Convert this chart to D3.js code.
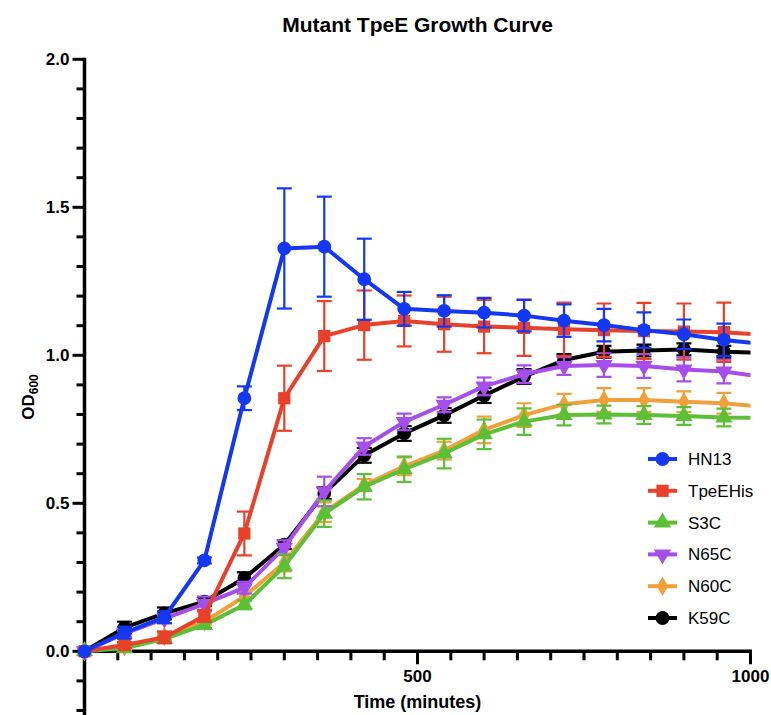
<!DOCTYPE html>
<html>
<head>
<meta charset="utf-8">
<script src="https://cdn.jsdelivr.net/npm/d3@7/dist/d3.min.js"></script>
<style>
  html, body { margin: 0; padding: 0; background: #fff; }
  svg { display: block; font-family: "Liberation Sans", Arial, Helvetica, sans-serif; }
</style>
</head>
<body>
<svg id="chart" width="771" height="715"></svg>
<script>
// Sampling times (minutes)
const times = [0, 60, 120, 180, 240, 300, 360, 420, 480, 540, 600, 660, 720, 780, 840, 900, 960, 1020];

// Mean OD600 per strain
const hn13     = [0, 0.063, 0.115, 0.307, 0.855, 1.361, 1.367, 1.257, 1.157, 1.150, 1.144, 1.134, 1.117, 1.102, 1.085, 1.071, 1.052, 1.038];
const tpeEHis  = [0, 0.021, 0.047, 0.120, 0.398, 0.855, 1.065, 1.102, 1.116, 1.105, 1.097, 1.093, 1.088, 1.085, 1.082, 1.080, 1.078, 1.069];
const s3c      = [0, 0.010, 0.042, 0.089, 0.157, 0.287, 0.465, 0.556, 0.615, 0.668, 0.733, 0.776, 0.798, 0.800, 0.798, 0.795, 0.790, 0.788];
const n65c     = [0, 0.060, 0.110, 0.160, 0.215, 0.350, 0.540, 0.692, 0.775, 0.833, 0.895, 0.936, 0.964, 0.967, 0.964, 0.952, 0.945, 0.927];
const n60c     = [0, 0.015, 0.050, 0.100, 0.185, 0.300, 0.470, 0.562, 0.625, 0.678, 0.748, 0.798, 0.835, 0.849, 0.849, 0.843, 0.838, 0.826];
const k59c     = [0, 0.080, 0.128, 0.168, 0.247, 0.360, 0.534, 0.662, 0.736, 0.797, 0.864, 0.928, 0.984, 1.012, 1.016, 1.020, 1.012, 1.008];

// Error (± SD) per strain
const hn13Err    = [0, 0.020, 0.020, 0.010, 0.040, 0.203, 0.169, 0.137, 0.057, 0.053, 0.050, 0.053, 0.055, 0.055, 0.060, 0.050, 0.055, 0.050];
const tpeEHisErr = [0, 0.010, 0.020, 0.020, 0.074, 0.110, 0.118, 0.117, 0.086, 0.093, 0.090, 0.095, 0.090, 0.090, 0.095, 0.095, 0.100, 0.100];
const s3cErr     = [0, 0.010, 0.010, 0.010, 0.015, 0.040, 0.045, 0.043, 0.043, 0.050, 0.050, 0.045, 0.035, 0.030, 0.030, 0.030, 0.030, 0.030];
const n65cErr    = [0, 0.010, 0.015, 0.025, 0.020, 0.025, 0.050, 0.028, 0.028, 0.025, 0.030, 0.030, 0.030, 0.040, 0.040, 0.040, 0.040, 0.040];
const n60cErr    = [0, 0.010, 0.010, 0.010, 0.015, 0.030, 0.033, 0.020, 0.030, 0.030, 0.045, 0.040, 0.035, 0.040, 0.040, 0.035, 0.035, 0.030];
const k59cErr    = [0, 0.020, 0.020, 0.015, 0.020, 0.015, 0.020, 0.025, 0.025, 0.025, 0.025, 0.025, 0.020, 0.020, 0.020, 0.020, 0.020, 0.020];

const seriesNames = ["HN13", "TpeEHis", "S3C", "N65C", "N60C", "K59C"];
const seriesColors = ["#1437F2", "#E8402A", "#5CBF35", "#A64EEA", "#F0A03A", "#000000"];
const seriesSymbols = ["circle", "square", "triangle", "triangleDown", "diamond", "circle"];

const xTickLabels = [500, 1000];
const yTickLabels = [0.0, 0.5, 1.0, 1.5, 2.0];

const series = seriesNames.map((name, i) => ({
  name,
  color: seriesColors[i],
  symbol: seriesSymbols[i],
  values: [hn13, tpeEHis, s3c, n65c, n60c, k59c][i],
  errs: [hn13Err, tpeEHisErr, s3cErr, n65cErr, n60cErr, k59cErr][i]
}));

const svg = d3.select("#chart");

const x = d3.scaleLinear().domain([0, 1000]).range([84.5, 750.5]);
const y = d3.scaleLinear().domain([0, 2.0]).range([651.3, 59.3]);
const yBottom = -0.5; // the axis runs on below zero

// Clip the data to the x range of the axis (lines run on past 1000)
svg.append("defs").append("clipPath").attr("id", "plotClip")
  .append("rect").attr("x", 60).attr("y", 0).attr("width", x(1000) - 60).attr("height", 715);

// Title
svg.append("text")
  .attr("x", (x(0) + x(1000)) / 2).attr("y", 31.5)
  .attr("text-anchor", "middle")
  .attr("font-weight", "bold").attr("font-size", 21)
  .text("Mutant TpeE Growth Curve");

// Y axis
const yAxis = svg.append("g").attr("transform", `translate(${x(0)},0)`);
yAxis.append("line")
  .attr("x1", 0).attr("x2", 0).attr("y1", y(2.0) - 1.5).attr("y2", y(yBottom))
  .attr("stroke", "#000").attr("stroke-width", 3.5);
const yMinor = d3.range(-5, 21).map(d => d / 10);
yAxis.selectAll("line.minor").data(yMinor.filter(v => Math.abs(v * 2 - Math.round(v * 2)) > 1e-6))
  .join("line").attr("class", "minor")
  .attr("x1", -8).attr("x2", 0).attr("y1", d => y(d)).attr("y2", d => y(d))
  .attr("stroke", "#000").attr("stroke-width", 3);
yAxis.selectAll("line.major").data(yTickLabels)
  .join("line").attr("class", "major")
  .attr("x1", -12).attr("x2", 0).attr("y1", d => y(d)).attr("y2", d => y(d))
  .attr("stroke", "#000").attr("stroke-width", 3);
yAxis.selectAll("text.lab").data(yTickLabels)
  .join("text").attr("class", "lab")
  .attr("x", -15).attr("y", d => y(d) + 6)
  .attr("text-anchor", "end")
  .attr("font-weight", "bold").attr("font-size", 17)
  .text(d => d3.format(".1f")(d));

// X axis along OD = 0
const xAxis = svg.append("g").attr("transform", `translate(0,${y(0)})`);
xAxis.append("line")
  .attr("x1", x(0)).attr("x2", x(1000) + 1.5).attr("y1", 0).attr("y2", 0)
  .attr("stroke", "#000").attr("stroke-width", 3.5);
const xMinor = d3.range(50, 1001, 50).filter(v => !xTickLabels.includes(v));
xAxis.selectAll("line.minor").data(xMinor)
  .join("line").attr("class", "minor")
  .attr("x1", d => x(d)).attr("x2", d => x(d)).attr("y1", 0).attr("y2", 9)
  .attr("stroke", "#000").attr("stroke-width", 3);
xAxis.selectAll("line.major").data(xTickLabels)
  .join("line").attr("class", "major")
  .attr("x1", d => x(d)).attr("x2", d => x(d)).attr("y1", 0).attr("y2", 13)
  .attr("stroke", "#000").attr("stroke-width", 3);
xAxis.selectAll("text.lab").data(xTickLabels)
  .join("text").attr("class", "lab")
  .attr("x", d => x(d)).attr("y", 30.5)
  .attr("text-anchor", "middle")
  .attr("font-weight", "bold").attr("font-size", 17)
  .text(d => d);

// Axis titles
svg.append("text")
  .attr("x", (x(0) + x(1000)) / 2).attr("y", 708)
  .attr("text-anchor", "middle")
  .attr("font-weight", "bold").attr("font-size", 18)
  .text("Time (minutes)");

const yTitle = svg.append("text")
  .attr("transform", `translate(34,397) rotate(-90)`)
  .attr("text-anchor", "middle")
  .attr("font-weight", "bold").attr("font-size", 17);
yTitle.append("tspan").text("OD");
yTitle.append("tspan").attr("font-size", 12).attr("dy", 4).text("600");

// Marker shapes
function symbolPath(kind) {
  const map = {
    circle: d3.symbol(d3.symbolCircle, 150),
    square: d3.symbol(d3.symbolSquare, 150),
    triangle: d3.symbol(d3.symbolTriangle, 130),
    triangleDown: d3.symbol(d3.symbolTriangle, 130),
    diamond: d3.symbol(d3.symbolDiamond, 110)
  };
  return map[kind]();
}
function symbolRotate(kind) { return kind === "triangleDown" ? " rotate(180)" : ""; }

const plot = svg.append("g").attr("clip-path", "url(#plotClip)");
const line = d3.line().x((d, i) => x(times[i])).y(d => y(d));

// Draw the last strain first so HN13 sits on top
series.slice().reverse().forEach(s => {
  const g = plot.append("g");
  const pts = s.values.map((v, i) => ({ t: times[i], v, e: s.errs[i] }));
  // error bars
  g.selectAll("g.err").data(pts.filter(p => p.e > 0))
    .join("g").attr("class", "err")
    .each(function (p) {
      const eg = d3.select(this);
      const cx = x(p.t);
      eg.append("line").attr("x1", cx).attr("x2", cx)
        .attr("y1", y(p.v + p.e)).attr("y2", y(p.v - p.e));
      [p.v + p.e, p.v - p.e].forEach(b => eg.append("line")
        .attr("x1", cx - 7.5).attr("x2", cx + 7.5).attr("y1", y(b)).attr("y2", y(b)));
    })
    .attr("stroke", s.color).attr("stroke-width", 2.2);
  // connecting line
  g.append("path").datum(s.values)
    .attr("d", line).attr("fill", "none")
    .attr("stroke", s.color).attr("stroke-width", 4)
    .attr("stroke-linejoin", "round");
  // markers
  g.selectAll("path.mk").data(pts)
    .join("path").attr("class", "mk")
    .attr("d", symbolPath(s.symbol))
    .attr("transform", p => `translate(${x(p.t)},${y(p.v)})${symbolRotate(s.symbol)}`)
    .attr("fill", s.color);
});

// Legend
const legend = svg.append("g");
const legendY = d3.scaleLinear().domain([0, seriesNames.length - 1]).range([459, 618]);
series.forEach((s, i) => {
  const ly = legendY(i);
  legend.append("line")
    .attr("x1", 648).attr("x2", 677).attr("y1", ly).attr("y2", ly)
    .attr("stroke", s.color).attr("stroke-width", 4);
  legend.append("path")
    .attr("d", symbolPath(s.symbol))
    .attr("transform", `translate(662.5,${ly})${symbolRotate(s.symbol)}`)
    .attr("fill", s.color);
  legend.append("text")
    .attr("x", 688).attr("y", ly + 6)
    .attr("font-size", 17)
    .text(s.name);
});
</script>
</body>
</html>
